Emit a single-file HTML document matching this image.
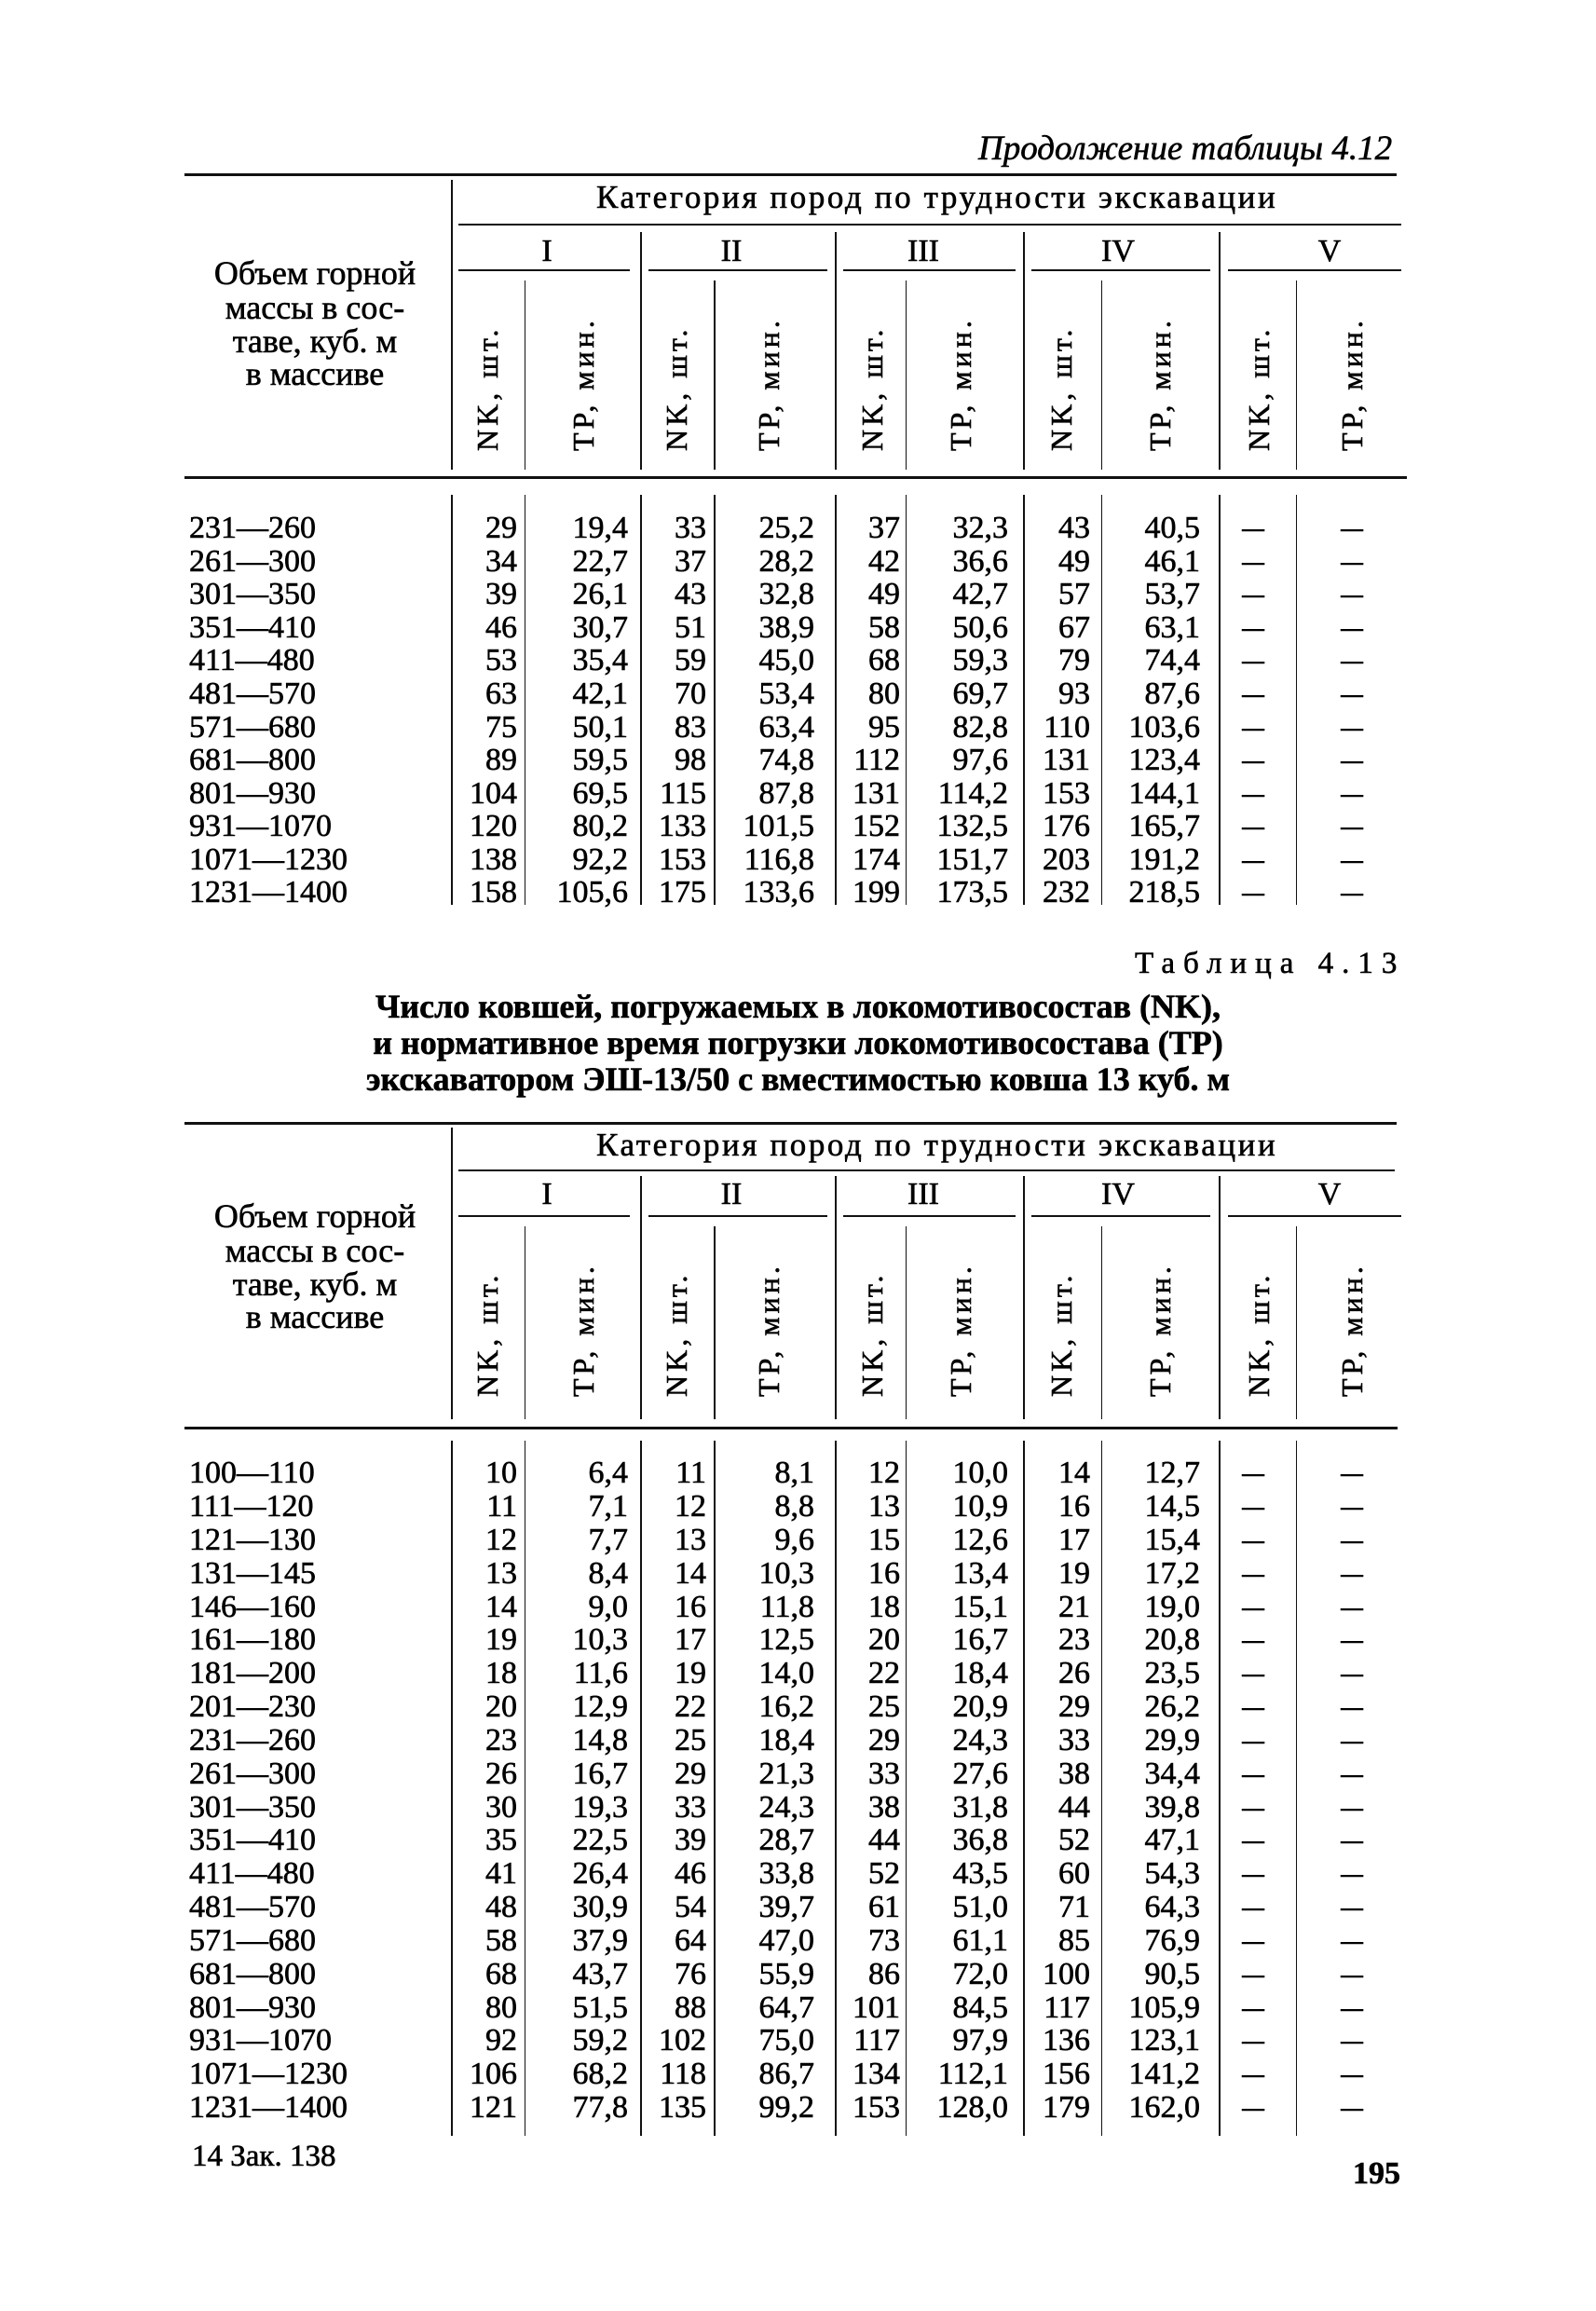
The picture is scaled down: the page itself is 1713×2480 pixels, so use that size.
<!DOCTYPE html>
<html><head><meta charset="utf-8"><style>
body{margin:0;background:#fff}
#p{position:relative;width:1713px;height:2480px;overflow:hidden;font-family:"Liberation Serif","DejaVu Serif",serif;color:#000;-webkit-text-stroke:0.6px #000}
.h{position:absolute;background:#111}
.t{position:absolute;white-space:nowrap}
.r{position:absolute;left:0;width:1713px;height:36px;font-size:34px;line-height:36px}
.r span{position:absolute;top:0;text-align:right;width:120px}
.r .l{left:203px;text-align:left;width:250px}
.a{left:435px}.b{left:554px}.c{left:638px}.d{left:754px}.e{left:846px}.f{left:962px}.g{left:1050px}.hh{left:1168px}
.r .x,.r .y{width:60px;text-align:center;transform:scaleX(.7)}
.x{left:1315px}.y{left:1421px}
.v{position:absolute;width:38px;writing-mode:vertical-rl;transform:rotate(180deg);font-size:32px;line-height:38px;text-align:left;white-space:nowrap;letter-spacing:4px}
.n{position:absolute;font-size:34px;width:80px;text-align:center;line-height:36px}
.lab{position:absolute;left:198px;width:280px;text-align:center;font-size:36px;line-height:36px}
.cat{position:absolute;left:640px;font-size:35px;letter-spacing:2.6px;white-space:nowrap}
</style></head><body><div id="p">
<div class="t" style="left:1050px;top:138px;font-size:37px;font-style:italic">Продолжение таблицы 4.12</div>
<div class="h" style="left:198px;top:186px;width:1301px;height:3px"></div>
<div class="h" style="left:484px;top:193px;width:2px;height:311px"></div>
<div class="cat" style="top:192px">Категория пород по трудности экскавации</div>
<div class="h" style="left:492px;top:240px;width:1012px;height:2px"></div>
<div class="n" style="left:547px;top:252px">I</div><div class="n" style="left:745px;top:252px">II</div><div class="n" style="left:951px;top:252px">III</div><div class="n" style="left:1160px;top:252px">IV</div><div class="n" style="left:1387px;top:252px">V</div>
<div class="h" style="left:492px;top:289px;width:184px;height:2px"></div><div class="h" style="left:696px;top:289px;width:192px;height:2px"></div><div class="h" style="left:905px;top:289px;width:185px;height:2px"></div><div class="h" style="left:1107px;top:289px;width:192px;height:2px"></div><div class="h" style="left:1318px;top:289px;width:186px;height:2px"></div>
<div class="h" style="left:687px;top:249px;width:2px;height:255px"></div><div class="h" style="left:896px;top:249px;width:2px;height:255px"></div><div class="h" style="left:1098px;top:249px;width:2px;height:255px"></div><div class="h" style="left:1308px;top:249px;width:2px;height:255px"></div>
<div class="h" style="left:563px;top:301px;width:1px;height:203px"></div><div class="h" style="left:766px;top:301px;width:2px;height:203px"></div><div class="h" style="left:972px;top:301px;width:1px;height:203px"></div><div class="h" style="left:1182px;top:301px;width:1px;height:203px"></div><div class="h" style="left:1391px;top:301px;width:1px;height:203px"></div>
<div class="lab" style="top:275px">Объем горной</div><div class="lab" style="top:312px">массы в сос-</div><div class="lab" style="top:348px">таве, куб. м</div><div class="lab" style="top:383px">в массиве</div>
<div class="v" style="left:504px;top:320px;height:164px">NK, шт.</div><div class="v" style="left:607px;top:320px;height:164px">ТР, мин.</div><div class="v" style="left:707px;top:320px;height:164px">NK, шт.</div><div class="v" style="left:806px;top:320px;height:164px">ТР, мин.</div><div class="v" style="left:917px;top:320px;height:164px">NK, шт.</div><div class="v" style="left:1012px;top:320px;height:164px">ТР, мин.</div><div class="v" style="left:1120px;top:320px;height:164px">NK, шт.</div><div class="v" style="left:1226px;top:320px;height:164px">ТР, мин.</div><div class="v" style="left:1332px;top:320px;height:164px">NK, шт.</div><div class="v" style="left:1432px;top:320px;height:164px">ТР, мин.</div>
<div class="h" style="left:198px;top:511px;width:1312px;height:3px"></div>
<div class="h" style="left:484px;top:531px;width:2px;height:440px"></div><div class="h" style="left:563px;top:531px;width:1px;height:440px"></div><div class="h" style="left:687px;top:531px;width:2px;height:440px"></div><div class="h" style="left:766px;top:531px;width:2px;height:440px"></div><div class="h" style="left:896px;top:531px;width:2px;height:440px"></div><div class="h" style="left:972px;top:531px;width:1px;height:440px"></div><div class="h" style="left:1098px;top:531px;width:2px;height:440px"></div><div class="h" style="left:1182px;top:531px;width:1px;height:440px"></div><div class="h" style="left:1308px;top:531px;width:2px;height:440px"></div><div class="h" style="left:1391px;top:531px;width:1px;height:440px"></div>
<div class="r" style="top:549px"><span class="l">231—260</span><span class="a">29</span><span class="b">19,4</span><span class="c">33</span><span class="d">25,2</span><span class="e">37</span><span class="f">32,3</span><span class="g">43</span><span class="hh">40,5</span><span class="x">—</span><span class="y">—</span></div>
<div class="r" style="top:585px"><span class="l">261—300</span><span class="a">34</span><span class="b">22,7</span><span class="c">37</span><span class="d">28,2</span><span class="e">42</span><span class="f">36,6</span><span class="g">49</span><span class="hh">46,1</span><span class="x">—</span><span class="y">—</span></div>
<div class="r" style="top:620px"><span class="l">301—350</span><span class="a">39</span><span class="b">26,1</span><span class="c">43</span><span class="d">32,8</span><span class="e">49</span><span class="f">42,7</span><span class="g">57</span><span class="hh">53,7</span><span class="x">—</span><span class="y">—</span></div>
<div class="r" style="top:656px"><span class="l">351—410</span><span class="a">46</span><span class="b">30,7</span><span class="c">51</span><span class="d">38,9</span><span class="e">58</span><span class="f">50,6</span><span class="g">67</span><span class="hh">63,1</span><span class="x">—</span><span class="y">—</span></div>
<div class="r" style="top:691px"><span class="l">411—480</span><span class="a">53</span><span class="b">35,4</span><span class="c">59</span><span class="d">45,0</span><span class="e">68</span><span class="f">59,3</span><span class="g">79</span><span class="hh">74,4</span><span class="x">—</span><span class="y">—</span></div>
<div class="r" style="top:727px"><span class="l">481—570</span><span class="a">63</span><span class="b">42,1</span><span class="c">70</span><span class="d">53,4</span><span class="e">80</span><span class="f">69,7</span><span class="g">93</span><span class="hh">87,6</span><span class="x">—</span><span class="y">—</span></div>
<div class="r" style="top:763px"><span class="l">571—680</span><span class="a">75</span><span class="b">50,1</span><span class="c">83</span><span class="d">63,4</span><span class="e">95</span><span class="f">82,8</span><span class="g">110</span><span class="hh">103,6</span><span class="x">—</span><span class="y">—</span></div>
<div class="r" style="top:798px"><span class="l">681—800</span><span class="a">89</span><span class="b">59,5</span><span class="c">98</span><span class="d">74,8</span><span class="e">112</span><span class="f">97,6</span><span class="g">131</span><span class="hh">123,4</span><span class="x">—</span><span class="y">—</span></div>
<div class="r" style="top:834px"><span class="l">801—930</span><span class="a">104</span><span class="b">69,5</span><span class="c">115</span><span class="d">87,8</span><span class="e">131</span><span class="f">114,2</span><span class="g">153</span><span class="hh">144,1</span><span class="x">—</span><span class="y">—</span></div>
<div class="r" style="top:869px"><span class="l">931—1070</span><span class="a">120</span><span class="b">80,2</span><span class="c">133</span><span class="d">101,5</span><span class="e">152</span><span class="f">132,5</span><span class="g">176</span><span class="hh">165,7</span><span class="x">—</span><span class="y">—</span></div>
<div class="r" style="top:905px"><span class="l">1071—1230</span><span class="a">138</span><span class="b">92,2</span><span class="c">153</span><span class="d">116,8</span><span class="e">174</span><span class="f">151,7</span><span class="g">203</span><span class="hh">191,2</span><span class="x">—</span><span class="y">—</span></div>
<div class="r" style="top:940px"><span class="l">1231—1400</span><span class="a">158</span><span class="b">105,6</span><span class="c">175</span><span class="d">133,6</span><span class="e">199</span><span class="f">173,5</span><span class="g">232</span><span class="hh">218,5</span><span class="x">—</span><span class="y">—</span></div>

<div class="t" style="left:1218px;top:1016px;font-size:33px;letter-spacing:9px">Таблица 4.13</div>
<div class="t" style="left:0;width:1713px;text-align:center;top:1061px;font-size:36px;font-weight:bold;line-height:39px">Число ковшей, погружаемых в локомотивосостав (NK),<br>и нормативное время погрузки локомотивосостава (ТР)<br>экскаватором ЭШ-13/50 с вместимостью ковша 13 куб. м</div>
<div class="h" style="left:198px;top:1204px;width:1301px;height:3px"></div>
<div class="h" style="left:484px;top:1210px;width:2px;height:313px"></div>
<div class="cat" style="top:1209px">Категория пород по трудности экскавации</div>
<div class="h" style="left:492px;top:1255px;width:1005px;height:2px"></div>
<div class="n" style="left:547px;top:1264px">I</div><div class="n" style="left:745px;top:1264px">II</div><div class="n" style="left:951px;top:1264px">III</div><div class="n" style="left:1160px;top:1264px">IV</div><div class="n" style="left:1387px;top:1264px">V</div>
<div class="h" style="left:492px;top:1304px;width:184px;height:2px"></div><div class="h" style="left:696px;top:1304px;width:192px;height:2px"></div><div class="h" style="left:905px;top:1304px;width:185px;height:2px"></div><div class="h" style="left:1107px;top:1304px;width:192px;height:2px"></div><div class="h" style="left:1318px;top:1304px;width:186px;height:2px"></div>
<div class="h" style="left:687px;top:1262px;width:2px;height:261px"></div><div class="h" style="left:896px;top:1262px;width:2px;height:261px"></div><div class="h" style="left:1098px;top:1262px;width:2px;height:261px"></div><div class="h" style="left:1308px;top:1262px;width:2px;height:261px"></div>
<div class="h" style="left:563px;top:1316px;width:1px;height:207px"></div><div class="h" style="left:766px;top:1316px;width:2px;height:207px"></div><div class="h" style="left:972px;top:1316px;width:1px;height:207px"></div><div class="h" style="left:1182px;top:1316px;width:1px;height:207px"></div><div class="h" style="left:1391px;top:1316px;width:1px;height:207px"></div>
<div class="lab" style="top:1287px">Объем горной</div><div class="lab" style="top:1324px">массы в сос-</div><div class="lab" style="top:1360px">таве, куб. м</div><div class="lab" style="top:1395px">в массиве</div>
<div class="v" style="left:504px;top:1335px;height:164px">NK, шт.</div><div class="v" style="left:607px;top:1335px;height:164px">ТР, мин.</div><div class="v" style="left:707px;top:1335px;height:164px">NK, шт.</div><div class="v" style="left:806px;top:1335px;height:164px">ТР, мин.</div><div class="v" style="left:917px;top:1335px;height:164px">NK, шт.</div><div class="v" style="left:1012px;top:1335px;height:164px">ТР, мин.</div><div class="v" style="left:1120px;top:1335px;height:164px">NK, шт.</div><div class="v" style="left:1226px;top:1335px;height:164px">ТР, мин.</div><div class="v" style="left:1332px;top:1335px;height:164px">NK, шт.</div><div class="v" style="left:1432px;top:1335px;height:164px">ТР, мин.</div>
<div class="h" style="left:198px;top:1531px;width:1302px;height:3px"></div>
<div class="h" style="left:484px;top:1546px;width:2px;height:746px"></div><div class="h" style="left:563px;top:1546px;width:1px;height:746px"></div><div class="h" style="left:687px;top:1546px;width:2px;height:746px"></div><div class="h" style="left:766px;top:1546px;width:2px;height:746px"></div><div class="h" style="left:896px;top:1546px;width:2px;height:746px"></div><div class="h" style="left:972px;top:1546px;width:1px;height:746px"></div><div class="h" style="left:1098px;top:1546px;width:2px;height:746px"></div><div class="h" style="left:1182px;top:1546px;width:1px;height:746px"></div><div class="h" style="left:1308px;top:1546px;width:2px;height:746px"></div><div class="h" style="left:1391px;top:1546px;width:1px;height:746px"></div>
<div class="r" style="top:1563px"><span class="l">100—110</span><span class="a">10</span><span class="b">6,4</span><span class="c">11</span><span class="d">8,1</span><span class="e">12</span><span class="f">10,0</span><span class="g">14</span><span class="hh">12,7</span><span class="x">—</span><span class="y">—</span></div>
<div class="r" style="top:1599px"><span class="l">111—120</span><span class="a">11</span><span class="b">7,1</span><span class="c">12</span><span class="d">8,8</span><span class="e">13</span><span class="f">10,9</span><span class="g">16</span><span class="hh">14,5</span><span class="x">—</span><span class="y">—</span></div>
<div class="r" style="top:1635px"><span class="l">121—130</span><span class="a">12</span><span class="b">7,7</span><span class="c">13</span><span class="d">9,6</span><span class="e">15</span><span class="f">12,6</span><span class="g">17</span><span class="hh">15,4</span><span class="x">—</span><span class="y">—</span></div>
<div class="r" style="top:1671px"><span class="l">131—145</span><span class="a">13</span><span class="b">8,4</span><span class="c">14</span><span class="d">10,3</span><span class="e">16</span><span class="f">13,4</span><span class="g">19</span><span class="hh">17,2</span><span class="x">—</span><span class="y">—</span></div>
<div class="r" style="top:1707px"><span class="l">146—160</span><span class="a">14</span><span class="b">9,0</span><span class="c">16</span><span class="d">11,8</span><span class="e">18</span><span class="f">15,1</span><span class="g">21</span><span class="hh">19,0</span><span class="x">—</span><span class="y">—</span></div>
<div class="r" style="top:1742px"><span class="l">161—180</span><span class="a">19</span><span class="b">10,3</span><span class="c">17</span><span class="d">12,5</span><span class="e">20</span><span class="f">16,7</span><span class="g">23</span><span class="hh">20,8</span><span class="x">—</span><span class="y">—</span></div>
<div class="r" style="top:1778px"><span class="l">181—200</span><span class="a">18</span><span class="b">11,6</span><span class="c">19</span><span class="d">14,0</span><span class="e">22</span><span class="f">18,4</span><span class="g">26</span><span class="hh">23,5</span><span class="x">—</span><span class="y">—</span></div>
<div class="r" style="top:1814px"><span class="l">201—230</span><span class="a">20</span><span class="b">12,9</span><span class="c">22</span><span class="d">16,2</span><span class="e">25</span><span class="f">20,9</span><span class="g">29</span><span class="hh">26,2</span><span class="x">—</span><span class="y">—</span></div>
<div class="r" style="top:1850px"><span class="l">231—260</span><span class="a">23</span><span class="b">14,8</span><span class="c">25</span><span class="d">18,4</span><span class="e">29</span><span class="f">24,3</span><span class="g">33</span><span class="hh">29,9</span><span class="x">—</span><span class="y">—</span></div>
<div class="r" style="top:1886px"><span class="l">261—300</span><span class="a">26</span><span class="b">16,7</span><span class="c">29</span><span class="d">21,3</span><span class="e">33</span><span class="f">27,6</span><span class="g">38</span><span class="hh">34,4</span><span class="x">—</span><span class="y">—</span></div>
<div class="r" style="top:1922px"><span class="l">301—350</span><span class="a">30</span><span class="b">19,3</span><span class="c">33</span><span class="d">24,3</span><span class="e">38</span><span class="f">31,8</span><span class="g">44</span><span class="hh">39,8</span><span class="x">—</span><span class="y">—</span></div>
<div class="r" style="top:1957px"><span class="l">351—410</span><span class="a">35</span><span class="b">22,5</span><span class="c">39</span><span class="d">28,7</span><span class="e">44</span><span class="f">36,8</span><span class="g">52</span><span class="hh">47,1</span><span class="x">—</span><span class="y">—</span></div>
<div class="r" style="top:1993px"><span class="l">411—480</span><span class="a">41</span><span class="b">26,4</span><span class="c">46</span><span class="d">33,8</span><span class="e">52</span><span class="f">43,5</span><span class="g">60</span><span class="hh">54,3</span><span class="x">—</span><span class="y">—</span></div>
<div class="r" style="top:2029px"><span class="l">481—570</span><span class="a">48</span><span class="b">30,9</span><span class="c">54</span><span class="d">39,7</span><span class="e">61</span><span class="f">51,0</span><span class="g">71</span><span class="hh">64,3</span><span class="x">—</span><span class="y">—</span></div>
<div class="r" style="top:2065px"><span class="l">571—680</span><span class="a">58</span><span class="b">37,9</span><span class="c">64</span><span class="d">47,0</span><span class="e">73</span><span class="f">61,1</span><span class="g">85</span><span class="hh">76,9</span><span class="x">—</span><span class="y">—</span></div>
<div class="r" style="top:2101px"><span class="l">681—800</span><span class="a">68</span><span class="b">43,7</span><span class="c">76</span><span class="d">55,9</span><span class="e">86</span><span class="f">72,0</span><span class="g">100</span><span class="hh">90,5</span><span class="x">—</span><span class="y">—</span></div>
<div class="r" style="top:2137px"><span class="l">801—930</span><span class="a">80</span><span class="b">51,5</span><span class="c">88</span><span class="d">64,7</span><span class="e">101</span><span class="f">84,5</span><span class="g">117</span><span class="hh">105,9</span><span class="x">—</span><span class="y">—</span></div>
<div class="r" style="top:2172px"><span class="l">931—1070</span><span class="a">92</span><span class="b">59,2</span><span class="c">102</span><span class="d">75,0</span><span class="e">117</span><span class="f">97,9</span><span class="g">136</span><span class="hh">123,1</span><span class="x">—</span><span class="y">—</span></div>
<div class="r" style="top:2208px"><span class="l">1071—1230</span><span class="a">106</span><span class="b">68,2</span><span class="c">118</span><span class="d">86,7</span><span class="e">134</span><span class="f">112,1</span><span class="g">156</span><span class="hh">141,2</span><span class="x">—</span><span class="y">—</span></div>
<div class="r" style="top:2244px"><span class="l">1231—1400</span><span class="a">121</span><span class="b">77,8</span><span class="c">135</span><span class="d">99,2</span><span class="e">153</span><span class="f">128,0</span><span class="g">179</span><span class="hh">162,0</span><span class="x">—</span><span class="y">—</span></div>
<div class="t" style="left:206px;top:2296px;font-size:33px">14 Зак. 138</div>
<div class="t" style="left:1452px;top:2314px;font-size:34px;font-weight:bold">195</div>
</div></body></html>
